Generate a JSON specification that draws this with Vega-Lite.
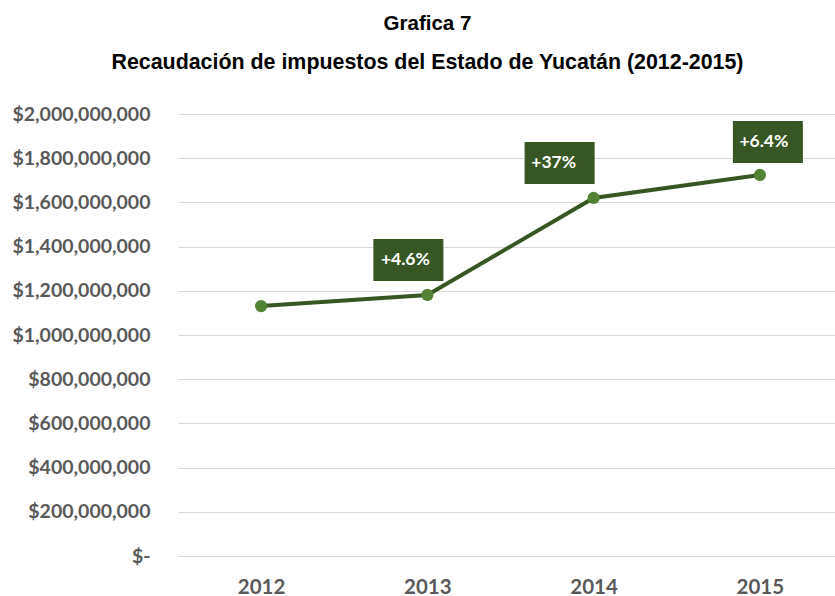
{
  "$schema": "https://vega.github.io/schema/vega-lite/v6.json",
  "width": 665,
  "height": 442,
  "autosize": {"type": "none"},
  "padding": {"left": 178, "top": 114, "right": 0, "bottom": 40},
  "background": "white",
  "title": {
    "text": "Grafica 7",
    "subtitle": "Recaudación de impuestos del Estado de Yucatán (2012-2015)",
    "anchor": "middle",
    "frame": "bounds",
    "font": "Liberation Sans",
    "fontSize": 20.5,
    "fontWeight": "bold",
    "color": "#000000",
    "subtitleFont": "Liberation Sans",
    "subtitleFontSize": 21.4,
    "subtitleFontWeight": "bold",
    "subtitleColor": "#000000",
    "subtitlePadding": 17,
    "offset": 31
  },
  "data": {
    "values": [
      {"year": "2012", "value": 1131000000, "label": ""},
      {"year": "2013", "value": 1181000000, "label": "+4.6%"},
      {"year": "2014", "value": 1620000000, "label": "+37%"},
      {"year": "2015", "value": 1724000000, "label": "+6.4%"}
    ]
  },
  "encoding": {
    "x": {
      "field": "year",
      "type": "ordinal",
      "scale": {"type": "point", "padding": 0.5},
      "axis": {
        "title": null,
        "labelAngle": 0,
        "domain": false,
        "ticks": false,
        "labelFont": "Lato",
        "labelFontSize": 20.5,
        "labelFontWeight": "bold",
        "labelColor": "#595959",
        "labelPadding": 21
      }
    },
    "y": {
      "field": "value",
      "type": "quantitative",
      "scale": {"domain": [0, 2000000000], "nice": false},
      "axis": {
        "title": null,
        "values": [0, 200000000, 400000000, 600000000, 800000000, 1000000000, 1200000000, 1400000000, 1600000000, 1800000000, 2000000000],
        "labelExpr": "datum.value == 0 ? '$-' : '$' + format(datum.value, ',')",
        "domain": false,
        "ticks": false,
        "grid": true,
        "gridColor": "#d9d9d9",
        "gridWidth": 1,
        "labelFont": "Lato",
        "labelFontSize": 19.5,
        "labelFontWeight": "bold",
        "labelColor": "#595959",
        "labelPadding": 28
      }
    }
  },
  "layer": [
    {"mark": {"type": "line", "color": "#375623", "strokeWidth": 4}},
    {"mark": {"type": "point", "filled": true, "color": "#548235", "size": 150, "opacity": 1}},
    {
      "transform": [{"filter": "datum.year == '2013'"}],
      "mark": {"type": "point", "filled": true, "opacity": 1, "color": "#375623", "shape": "M-1,-0.6L1,-0.6L1,0.6L-1,0.6Z", "size": 4900, "xOffset": -19, "yOffset": -35}
    },
    {
      "transform": [{"filter": "datum.year == '2014'"}],
      "mark": {"type": "point", "filled": true, "opacity": 1, "color": "#375623", "shape": "M-1,-0.6L1,-0.6L1,0.6L-1,0.6Z", "size": 4900, "xOffset": -34, "yOffset": -35}
    },
    {
      "transform": [{"filter": "datum.year == '2015'"}],
      "mark": {"type": "point", "filled": true, "opacity": 1, "color": "#375623", "shape": "M-1,-0.6L1,-0.6L1,0.6L-1,0.6Z", "size": 4900, "xOffset": 8, "yOffset": -33}
    },
    {
      "transform": [{"filter": "datum.year == '2013'"}],
      "mark": {"type": "text", "color": "white", "font": "Lato", "fontSize": 17.5, "fontWeight": "bold", "baseline": "middle", "align": "center", "xOffset": -22, "yOffset": -35},
      "encoding": {"text": {"field": "label"}}
    },
    {
      "transform": [{"filter": "datum.year == '2014'"}],
      "mark": {"type": "text", "color": "white", "font": "Lato", "fontSize": 17.5, "fontWeight": "bold", "baseline": "middle", "align": "center", "xOffset": -40, "yOffset": -35},
      "encoding": {"text": {"field": "label"}}
    },
    {
      "transform": [{"filter": "datum.year == '2015'"}],
      "mark": {"type": "text", "color": "white", "font": "Lato", "fontSize": 17.5, "fontWeight": "bold", "baseline": "middle", "align": "center", "xOffset": 4, "yOffset": -33},
      "encoding": {"text": {"field": "label"}}
    }
  ],
  "config": {"view": {"stroke": null}}
}
